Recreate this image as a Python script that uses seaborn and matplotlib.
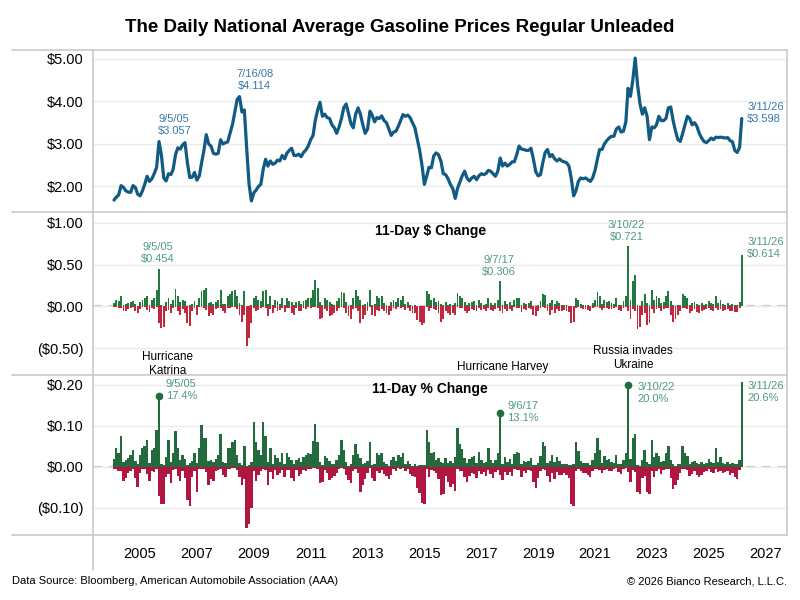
import pandas as pd
import matplotlib
matplotlib.use("Agg")
import matplotlib.pyplot as plt
import matplotlib.dates as mdates
from matplotlib.lines import Line2D
from matplotlib.ticker import FuncFormatter, FixedLocator
import seaborn as sns

# ----------------------------
# Data (monthly readings, Feb 2004 .. Mar 2026)
# ----------------------------
months = pd.date_range("2004-02-01", "2026-03-01", freq="MS")

price = [
    1.68, 1.75, 1.80, 2.02, 1.98, 1.90, 1.87, 1.86, 2.02, 1.98, 1.82,          # 2004
    1.78, 1.90, 2.05, 2.24, 2.12, 2.18, 2.30, 2.45, 3.057, 2.75, 2.20, 2.13,  # 2005
    2.30, 2.28, 2.40, 2.75, 2.91, 2.88, 2.98, 3.03, 2.55, 2.21, 2.22, 2.33,   # 2006
    2.15, 2.25, 2.55, 2.85, 3.22, 3.00, 2.95, 2.78, 2.76, 2.78, 3.10, 3.00,   # 2007
    3.03, 3.05, 3.25, 3.45, 3.75, 4.05, 4.114, 3.75, 3.80, 2.90, 2.05, 1.66,  # 2008
    1.85, 1.92, 2.00, 2.05, 2.40, 2.64, 2.48, 2.60, 2.52, 2.55, 2.62, 2.60,   # 2009
    2.73, 2.65, 2.78, 2.85, 2.90, 2.73, 2.73, 2.76, 2.70, 2.80, 2.86, 2.95,   # 2010
    3.10, 3.20, 3.55, 3.80, 3.98, 3.65, 3.70, 3.62, 3.60, 3.45, 3.38, 3.25,   # 2011
    3.40, 3.60, 3.85, 3.94, 3.72, 3.48, 3.38, 3.70, 3.85, 3.70, 3.45, 3.25,   # 2012
    3.35, 3.77, 3.68, 3.52, 3.62, 3.60, 3.66, 3.55, 3.50, 3.35, 3.20, 3.28,   # 2013
    3.30, 3.42, 3.55, 3.69, 3.65, 3.68, 3.62, 3.50, 3.38, 3.12, 2.85, 2.50,   # 2014
    2.05, 2.25, 2.45, 2.44, 2.72, 2.79, 2.75, 2.60, 2.30, 2.28, 2.18, 2.05,   # 2015
    1.95, 1.72, 1.95, 2.10, 2.25, 2.36, 2.20, 2.13, 2.20, 2.24, 2.16, 2.25,   # 2016
    2.30, 2.28, 2.30, 2.38, 2.36, 2.30, 2.24, 2.36, 2.67, 2.48, 2.55, 2.48,   # 2017
    2.52, 2.58, 2.58, 2.75, 2.95, 2.88, 2.87, 2.85, 2.85, 2.90, 2.65, 2.35,   # 2018
    2.25, 2.28, 2.55, 2.80, 2.87, 2.70, 2.75, 2.65, 2.60, 2.65, 2.60, 2.58,   # 2019
    2.56, 2.48, 2.20, 1.78, 1.90, 2.12, 2.20, 2.18, 2.20, 2.16, 2.12, 2.20,   # 2020
    2.38, 2.65, 2.87, 2.87, 3.00, 3.08, 3.14, 3.18, 3.18, 3.35, 3.40, 3.28,   # 2021
    3.30, 3.52, 4.31, 4.12, 4.50, 5.02, 4.40, 3.95, 3.70, 3.85, 3.65, 3.10,   # 2022
    3.40, 3.38, 3.45, 3.65, 3.55, 3.55, 3.60, 3.85, 3.87, 3.55, 3.30, 3.10,   # 2023
    3.06, 3.25, 3.45, 3.65, 3.60, 3.45, 3.50, 3.42, 3.25, 3.14, 3.06, 3.03,   # 2024
    3.08, 3.14, 3.10, 3.16, 3.15, 3.16, 3.15, 3.14, 3.15, 3.08, 3.05, 2.85,   # 2025
    2.80, 2.92, 3.598,                                                         # 2026
]

# largest 11-day $ rise / fall seen in each month
dollar_up = [
    0.04, 0.08, 0.06, 0.13, 0.02, 0.03, 0.04, 0.05, 0.07, 0.03, 0.01,
    0.05, 0.08, 0.10, 0.12, 0.02, 0.08, 0.10, 0.20, 0.454, 0.02, 0.01, 0.05,
    0.10, 0.03, 0.08, 0.21, 0.12, 0.05, 0.08, 0.06, 0.01, 0.02, 0.03, 0.07,
    0.02, 0.10, 0.18, 0.20, 0.22, 0.04, 0.05, 0.03, 0.05, 0.08, 0.20, 0.03,
    0.03, 0.12, 0.15, 0.18, 0.20, 0.12, 0.04, 0.02, 0.18, 0.01, 0.01, 0.02,
    0.10, 0.12, 0.08, 0.06, 0.18, 0.20, 0.03, 0.12, 0.02, 0.08, 0.06, 0.03,
    0.10, 0.02, 0.10, 0.07, 0.05, 0.02, 0.05, 0.06, 0.03, 0.07, 0.08, 0.10,
    0.10, 0.20, 0.32, 0.22, 0.05, 0.02, 0.10, 0.08, 0.05, 0.03, 0.02, 0.06,
    0.10, 0.17, 0.16, 0.05, 0.01, 0.02, 0.10, 0.20, 0.12, 0.08, 0.02, 0.03,
    0.05, 0.20, 0.02, 0.03, 0.12, 0.10, 0.12, 0.04, 0.02, 0.01, 0.05, 0.08,
    0.05, 0.10, 0.08, 0.12, 0.03, 0.05, 0.02, 0.01, 0.02, 0.01, 0.01, 0.01,
    0.01, 0.18, 0.15, 0.08, 0.10, 0.05, 0.06, 0.03, 0.02, 0.05, 0.02, 0.03,
    0.02, 0.04, 0.16, 0.12, 0.10, 0.05, 0.02, 0.04, 0.05, 0.06, 0.02, 0.08,
    0.04, 0.02, 0.03, 0.10, 0.04, 0.02, 0.04, 0.08, 0.306, 0.02, 0.06, 0.03,
    0.05, 0.02, 0.08, 0.10, 0.10, 0.02, 0.04, 0.03, 0.04, 0.06, 0.01, 0.01,
    0.02, 0.06, 0.15, 0.14, 0.03, 0.04, 0.08, 0.03, 0.06, 0.04, 0.02, 0.02,
    0.02, 0.01, 0.01, 0.01, 0.10, 0.08, 0.03, 0.02, 0.02, 0.02, 0.01, 0.04,
    0.08, 0.17, 0.12, 0.03, 0.08, 0.05, 0.06, 0.04, 0.03, 0.10, 0.02, 0.02,
    0.06, 0.12, 0.721, 0.08, 0.30, 0.38, 0.02, 0.01, 0.06, 0.15, 0.04, 0.02,
    0.20, 0.08, 0.12, 0.10, 0.04, 0.05, 0.12, 0.18, 0.06, 0.02, 0.01, 0.02,
    0.02, 0.15, 0.12, 0.10, 0.02, 0.04, 0.05, 0.03, 0.02, 0.04, 0.02, 0.03,
    0.06, 0.04, 0.03, 0.12, 0.04, 0.08, 0.03, 0.02, 0.04, 0.02, 0.03, 0.02,
    0.02, 0.05, 0.614,
]
dollar_down = [
    -0.01, -0.01, -0.02, -0.02, -0.06, -0.05, -0.03, -0.02, -0.01, -0.05, -0.08,
    -0.03, -0.01, -0.01, -0.04, -0.07, -0.02, -0.03, -0.01, -0.20, -0.26, -0.24, -0.05,
    -0.04, -0.08, -0.02, -0.01, -0.06, -0.10, -0.03, -0.08, -0.20, -0.23, -0.05, -0.02,
    -0.10, -0.01, -0.01, -0.02, -0.04, -0.12, -0.08, -0.10, -0.03, -0.02, -0.02, -0.06,
    -0.08, -0.02, -0.02, -0.01, -0.01, -0.03, -0.10, -0.18, -0.10, -0.47, -0.38, -0.20,
    -0.02, -0.06, -0.04, -0.02, -0.01, -0.02, -0.12, -0.03, -0.08, -0.02, -0.05, -0.04,
    -0.02, -0.07, -0.02, -0.02, -0.08, -0.10, -0.02, -0.06, -0.05, -0.02, -0.03, -0.01,
    -0.02, -0.01, -0.01, -0.02, -0.15, -0.14, -0.03, -0.06, -0.12, -0.10, -0.08, -0.05,
    -0.02, -0.01, -0.02, -0.08, -0.12, -0.15, -0.03, -0.02, -0.06, -0.20, -0.15, -0.10,
    -0.05, -0.01, -0.10, -0.12, -0.04, -0.05, -0.03, -0.06, -0.08, -0.10, -0.06, -0.02,
    -0.03, -0.01, -0.02, -0.01, -0.04, -0.02, -0.06, -0.08, -0.08, -0.16, -0.18, -0.22,
    -0.20, -0.01, -0.06, -0.02, -0.03, -0.04, -0.08, -0.18, -0.15, -0.05, -0.08, -0.10,
    -0.08, -0.10, -0.01, -0.02, -0.02, -0.06, -0.08, -0.05, -0.03, -0.04, -0.06, -0.02,
    -0.04, -0.03, -0.05, -0.02, -0.04, -0.06, -0.03, -0.02, -0.05, -0.08, -0.03, -0.05,
    -0.03, -0.06, -0.01, -0.02, -0.02, -0.07, -0.03, -0.04, -0.02, -0.03, -0.10, -0.12,
    -0.06, -0.02, -0.01, -0.02, -0.06, -0.10, -0.04, -0.08, -0.03, -0.05, -0.05, -0.04,
    -0.05, -0.07, -0.20, -0.18, -0.02, -0.01, -0.02, -0.03, -0.03, -0.04, -0.05, -0.02,
    -0.01, -0.01, -0.02, -0.04, -0.02, -0.02, -0.03, -0.03, -0.02, -0.01, -0.04, -0.06,
    -0.02, -0.01, -0.05, -0.15, -0.03, -0.06, -0.27, -0.25, -0.10, -0.08, -0.22, -0.20,
    -0.03, -0.08, -0.03, -0.02, -0.06, -0.03, -0.02, -0.02, -0.10, -0.18, -0.15, -0.10,
    -0.05, -0.02, -0.02, -0.03, -0.08, -0.06, -0.03, -0.07, -0.08, -0.06, -0.04, -0.03,
    -0.02, -0.04, -0.05, -0.02, -0.04, -0.03, -0.05, -0.04, -0.03, -0.06, -0.05, -0.07,
    -0.07, -0.02, 0.0,
]

# largest 11-day % rise / fall seen in each month (as fractions)
pct_up = [
    0.020, 0.045, 0.035, 0.075, 0.012, 0.018, 0.022, 0.030, 0.040, 0.015, 0.006,
    0.030, 0.045, 0.050, 0.065, 0.010, 0.040, 0.045, 0.090, 0.174, 0.008, 0.005, 0.025,
    0.065, 0.012, 0.035, 0.088, 0.045, 0.018, 0.030, 0.020, 0.005, 0.010, 0.015, 0.035,
    0.010, 0.045, 0.102, 0.070, 0.070, 0.015, 0.018, 0.012, 0.020, 0.030, 0.080, 0.012,
    0.010, 0.045, 0.045, 0.060, 0.065, 0.030, 0.010, 0.005, 0.050, 0.003, 0.005, 0.012,
    0.110, 0.060, 0.040, 0.030, 0.110, 0.075, 0.012, 0.045, 0.008, 0.030, 0.022, 0.012,
    0.035, 0.008, 0.035, 0.025, 0.018, 0.008, 0.018, 0.022, 0.012, 0.025, 0.028, 0.035,
    0.032, 0.062, 0.105, 0.060, 0.013, 0.005, 0.027, 0.022, 0.014, 0.008, 0.006, 0.018,
    0.030, 0.065, 0.042, 0.013, 0.003, 0.006, 0.030, 0.055, 0.032, 0.022, 0.006, 0.009,
    0.015, 0.060, 0.005, 0.008, 0.033, 0.028, 0.033, 0.011, 0.006, 0.003, 0.016, 0.025,
    0.015, 0.029, 0.023, 0.033, 0.008, 0.014, 0.006, 0.003, 0.006, 0.003, 0.004, 0.004,
    0.005, 0.090, 0.061, 0.033, 0.037, 0.018, 0.022, 0.012, 0.009, 0.022, 0.009, 0.015,
    0.010, 0.023, 0.095, 0.057, 0.044, 0.021, 0.009, 0.019, 0.023, 0.027, 0.009, 0.036,
    0.017, 0.009, 0.013, 0.045, 0.017, 0.009, 0.018, 0.035, 0.131, 0.008, 0.024, 0.012,
    0.020, 0.008, 0.031, 0.036, 0.034, 0.007, 0.014, 0.011, 0.014, 0.021, 0.004, 0.004,
    0.009, 0.026, 0.060, 0.050, 0.010, 0.015, 0.029, 0.011, 0.023, 0.015, 0.008, 0.008,
    0.008, 0.004, 0.005, 0.006, 0.060, 0.038, 0.014, 0.009, 0.009, 0.009, 0.005, 0.018,
    0.034, 0.070, 0.042, 0.010, 0.027, 0.016, 0.019, 0.013, 0.009, 0.030, 0.006, 0.006,
    0.018, 0.034, 0.200, 0.019, 0.070, 0.080, 0.005, 0.003, 0.016, 0.040, 0.011, 0.006,
    0.065, 0.024, 0.035, 0.027, 0.011, 0.014, 0.033, 0.050, 0.016, 0.006, 0.003, 0.006,
    0.007, 0.050, 0.035, 0.027, 0.006, 0.012, 0.014, 0.009, 0.006, 0.013, 0.007, 0.010,
    0.019, 0.013, 0.010, 0.045, 0.013, 0.025, 0.010, 0.006, 0.013, 0.006, 0.010, 0.007,
    0.007, 0.018, 0.206,
]
pct_down = [
    -0.006, -0.006, -0.010, -0.010, -0.035, -0.028, -0.016, -0.010, -0.006, -0.028, -0.050,
    -0.015, -0.006, -0.006, -0.018, -0.035, -0.010, -0.012, -0.005, -0.070, -0.090, -0.090, -0.025,
    -0.018, -0.040, -0.008, -0.005, -0.022, -0.035, -0.010, -0.028, -0.080, -0.095, -0.025, -0.010,
    -0.060, -0.005, -0.004, -0.006, -0.012, -0.045, -0.030, -0.035, -0.010, -0.008, -0.006, -0.020,
    -0.025, -0.006, -0.006, -0.003, -0.003, -0.008, -0.025, -0.045, -0.030, -0.150, -0.140, -0.100,
    -0.010, -0.035, -0.020, -0.010, -0.004, -0.008, -0.045, -0.012, -0.030, -0.008, -0.020, -0.015,
    -0.008, -0.025, -0.008, -0.008, -0.028, -0.035, -0.008, -0.022, -0.018, -0.008, -0.010, -0.004,
    -0.006, -0.003, -0.003, -0.005, -0.040, -0.038, -0.008, -0.016, -0.033, -0.028, -0.023, -0.015,
    -0.006, -0.003, -0.005, -0.020, -0.032, -0.040, -0.009, -0.005, -0.016, -0.060, -0.043, -0.030,
    -0.015, -0.003, -0.027, -0.034, -0.011, -0.014, -0.008, -0.017, -0.023, -0.030, -0.019, -0.006,
    -0.009, -0.003, -0.006, -0.003, -0.011, -0.005, -0.017, -0.023, -0.024, -0.051, -0.063, -0.088,
    -0.090, -0.004, -0.024, -0.008, -0.011, -0.014, -0.029, -0.069, -0.065, -0.022, -0.037, -0.049,
    -0.041, -0.058, -0.005, -0.010, -0.009, -0.025, -0.036, -0.023, -0.014, -0.018, -0.028, -0.009,
    -0.017, -0.013, -0.022, -0.008, -0.017, -0.026, -0.013, -0.008, -0.020, -0.032, -0.012, -0.020,
    -0.012, -0.023, -0.004, -0.007, -0.007, -0.024, -0.010, -0.014, -0.007, -0.010, -0.038, -0.051,
    -0.027, -0.009, -0.004, -0.007, -0.021, -0.037, -0.015, -0.030, -0.012, -0.019, -0.019, -0.016,
    -0.020, -0.028, -0.091, -0.095, -0.011, -0.005, -0.009, -0.014, -0.014, -0.019, -0.024, -0.009,
    -0.004, -0.004, -0.007, -0.014, -0.007, -0.006, -0.010, -0.009, -0.006, -0.003, -0.012, -0.018,
    -0.006, -0.003, -0.012, -0.036, -0.007, -0.012, -0.061, -0.065, -0.027, -0.021, -0.060, -0.065,
    -0.009, -0.024, -0.009, -0.005, -0.017, -0.008, -0.006, -0.005, -0.026, -0.055, -0.045, -0.032,
    -0.016, -0.006, -0.006, -0.008, -0.022, -0.017, -0.009, -0.020, -0.025, -0.019, -0.013, -0.010,
    -0.006, -0.013, -0.016, -0.006, -0.013, -0.010, -0.016, -0.013, -0.010, -0.019, -0.016, -0.025,
    -0.030, -0.007, 0.0,
]

# annotated points: (label date, month of the point)
price_notes = [("7/16/08", "2008-07-01"), ("9/5/05", "2005-09-01")]
dollar_notes = [("9/5/05", "2005-09-01"), ("9/7/17", "2017-09-01"), ("3/10/22", "2022-03-01")]
pct_notes = [("9/5/05", "2005-09-01"), ("9/6/17", "2017-09-01"), ("3/10/22", "2022-03-01")]
last_label = "3/11/26"

years = list(range(2005, 2028, 2))

# ----------------------------
# Style
# ----------------------------
LINE_BLUE = "#115a84"
NOTE_BLUE = "#3577ad"
NOTE_GREEN = "#4f9a7e"
GREEN1, RED1 = "#227a3f", "#c0283e"
GREEN2, RED2 = "#236b3d", "#b0163f"
FRAME = "#c9c9c9"
GRID = "#ebebeb"

sns.set_theme(style="white")
plt.rcParams["font.family"] = ["Liberation Sans", "DejaVu Sans"]
plt.rcParams["text.color"] = "black"

df = pd.DataFrame({"date": months, "price": price,
                   "d_up": dollar_up, "d_dn": dollar_down,
                   "p_up": pct_up, "p_dn": pct_down})


def money(v, pos=None):
    if v < 0:
        return f"(${-v:.2f})"
    return f"${v:.2f}"


fig = plt.figure(figsize=(8, 6), dpi=100)
L, W = 93 / 800, 694 / 800
ax1 = fig.add_axes([L, 1 - 212 / 600, W, 162 / 600])
ax2 = fig.add_axes([L, 1 - 375 / 600, W, 163 / 600], sharex=ax1)
ax3 = fig.add_axes([L, 1 - 535 / 600, W, 160 / 600], sharex=ax1)

# top: price line
sns.lineplot(data=df, x="date", y="price", ax=ax1, color=LINE_BLUE, linewidth=2.3)
ax1.set_ylim(1.40, 5.21)
ax1.set_yticks([2, 3, 4, 5])

# middle: 11-day $ change
ax2.axhline(0, color="#c8c8c8", ls=(0, (4, 3)), lw=1.6, zorder=0)
ax2.bar(df["date"], df["d_up"], width=24, color=GREEN1, linewidth=0)
ax2.bar(df["date"], df["d_dn"], width=24, color=RED1, linewidth=0)
ax2.set_ylim(-0.82, 1.13)
ax2.set_yticks([-0.5, 0, 0.5, 1.0])

# bottom: 11-day % change
ax3.axhline(0, color="#c8c8c8", ls=(0, (4, 3)), lw=1.6, zorder=0)
ax3.bar(df["date"], df["p_up"], width=31, color=GREEN2, linewidth=0)
ax3.bar(df["date"], df["p_dn"], width=31, color=RED2, linewidth=0)
ax3.set_ylim(-0.166, 0.224)
ax3.set_yticks([-0.1, 0, 0.1, 0.2])

tick_pos = [mdates.date2num(pd.Timestamp(f"{y}-01-01")) for y in years]
for ax in (ax1, ax2, ax3):
    ax.set_xlim(pd.Timestamp("2003-05-07"), pd.Timestamp("2027-10-03"))
    ax.yaxis.set_major_formatter(FuncFormatter(money))
    ax.xaxis.set_major_locator(FixedLocator(tick_pos))
    ax.grid(axis="y", color=GRID, lw=1)
    ax.grid(axis="x", visible=False)
    ax.set_axisbelow(True)
    for s in ax.spines.values():
        s.set_visible(False)
    ax.set_xlabel("")
    ax.set_ylabel("")
    ax.tick_params(axis="y", length=0, pad=7, labelsize=10.5, labelcolor="black")
    ax.patch.set_alpha(0)

ax1.tick_params(axis="x", length=0, labelbottom=False)
ax2.tick_params(axis="x", length=0, labelbottom=False)
ax3.xaxis.set_major_formatter(mdates.DateFormatter("%Y"))
ax3.tick_params(axis="x", direction="in", length=3, color=FRAME, pad=9,
                labelsize=10.5, labelcolor="black")

# ----------------------------
# Annotations
# ----------------------------
fs = 8
last = df.iloc[-1]

for lab, d in price_notes:
    row = df[df["date"] == pd.Timestamp(d)].iloc[0]
    ax1.annotate(f"{lab}\n${row['price']:.3f}", (row["date"], row["price"]),
                 xytext=(11, 4), textcoords="offset points", ha="center", va="bottom",
                 fontsize=fs, color=NOTE_BLUE, linespacing=1.25)
ax1.annotate(f"{last_label}\n${last['price']:.3f}", (last["date"], last["price"]),
             xytext=(4, 4), textcoords="offset points", ha="left", va="center",
             fontsize=fs, color=NOTE_BLUE, linespacing=1.25)

for lab, d in dollar_notes:
    row = df[df["date"] == pd.Timestamp(d)].iloc[0]
    ax2.annotate(f"{lab}\n${row['d_up']:.3f}", (row["date"], row["d_up"]),
                 xytext=(-1, 3), textcoords="offset points", ha="center", va="bottom",
                 fontsize=fs, color=NOTE_GREEN, linespacing=1.25)
ax2.annotate(f"{last_label}\n${last['d_up']:.3f}", (last["date"], last["d_up"]),
             xytext=(4, 5), textcoords="offset points", ha="left", va="center",
             fontsize=fs, color=NOTE_GREEN, linespacing=1.25)

pct_offsets = [(5, 4), (5, 1), (7, -6)]
for (lab, d), off in zip(pct_notes, pct_offsets):
    row = df[df["date"] == pd.Timestamp(d)].iloc[0]
    ax3.plot(row["date"], row["p_up"], "o", color=GREEN2, ms=4.5)
    ax3.annotate(f"{lab}\n{row['p_up'] * 100:.1f}%", (row["date"], row["p_up"]),
                 xytext=off, textcoords="offset points", ha="left", va="center",
                 fontsize=fs, color=NOTE_GREEN, linespacing=1.25)
ax3.annotate(f"{last_label}\n{last['p_up'] * 100:.1f}%", (last["date"], last["p_up"]),
             xytext=(4, -7), textcoords="offset points", ha="left", va="center",
             fontsize=fs, color=NOTE_GREEN, linespacing=1.25)

# event labels
events = [("Hurricane\nKatrina", "2005-12-15", -0.69),
          ("Hurricane Harvey", "2017-10-08", -0.72),
          ("Russia invades\nUkraine", "2022-05-05", -0.62)]
for txt, d, yv in events:
    ax2.text(pd.Timestamp(d), yv, txt, ha="center", va="center", fontsize=8.5,
             color="black", linespacing=1.2)

ax2.text(0.486, 0.883, "11-Day $ Change", transform=ax2.transAxes, ha="center",
         va="center", fontsize=10, fontweight="bold", color="black")
ax3.text(0.486, 0.9125, "11-Day % Change", transform=ax3.transAxes, ha="center",
         va="center", fontsize=10, fontweight="bold", color="black")

# frame lines like the original layout
def px_line(x0, y0, x1, y1):
    fig.add_artist(Line2D([x0 / 800, x1 / 800], [1 - y0 / 600, 1 - y1 / 600],
                          transform=fig.transFigure, color=FRAME, lw=1.2))

for yy in (50, 212, 375, 535):
    px_line(12, yy, 787, yy)
px_line(93, 50, 93, 570)
px_line(787, 50, 787, 535)

fig.text(0.5, 1 - 28 / 600, "The Daily National Average Gasoline Prices Regular Unleaded",
         ha="center", va="center", fontsize=13.5, fontweight="bold", color="black")
fig.text(12 / 800, 1 - 581 / 600, "Data Source: Bloomberg, American Automobile Association (AAA)",
         ha="left", va="center", fontsize=8, color="black")
fig.text(787 / 800, 1 - 581 / 600, "\u00a9 2026 Bianco Research, L.L.C.",
         ha="right", va="center", fontsize=8, color="black")

fig.savefig("out.png", dpi=100)
